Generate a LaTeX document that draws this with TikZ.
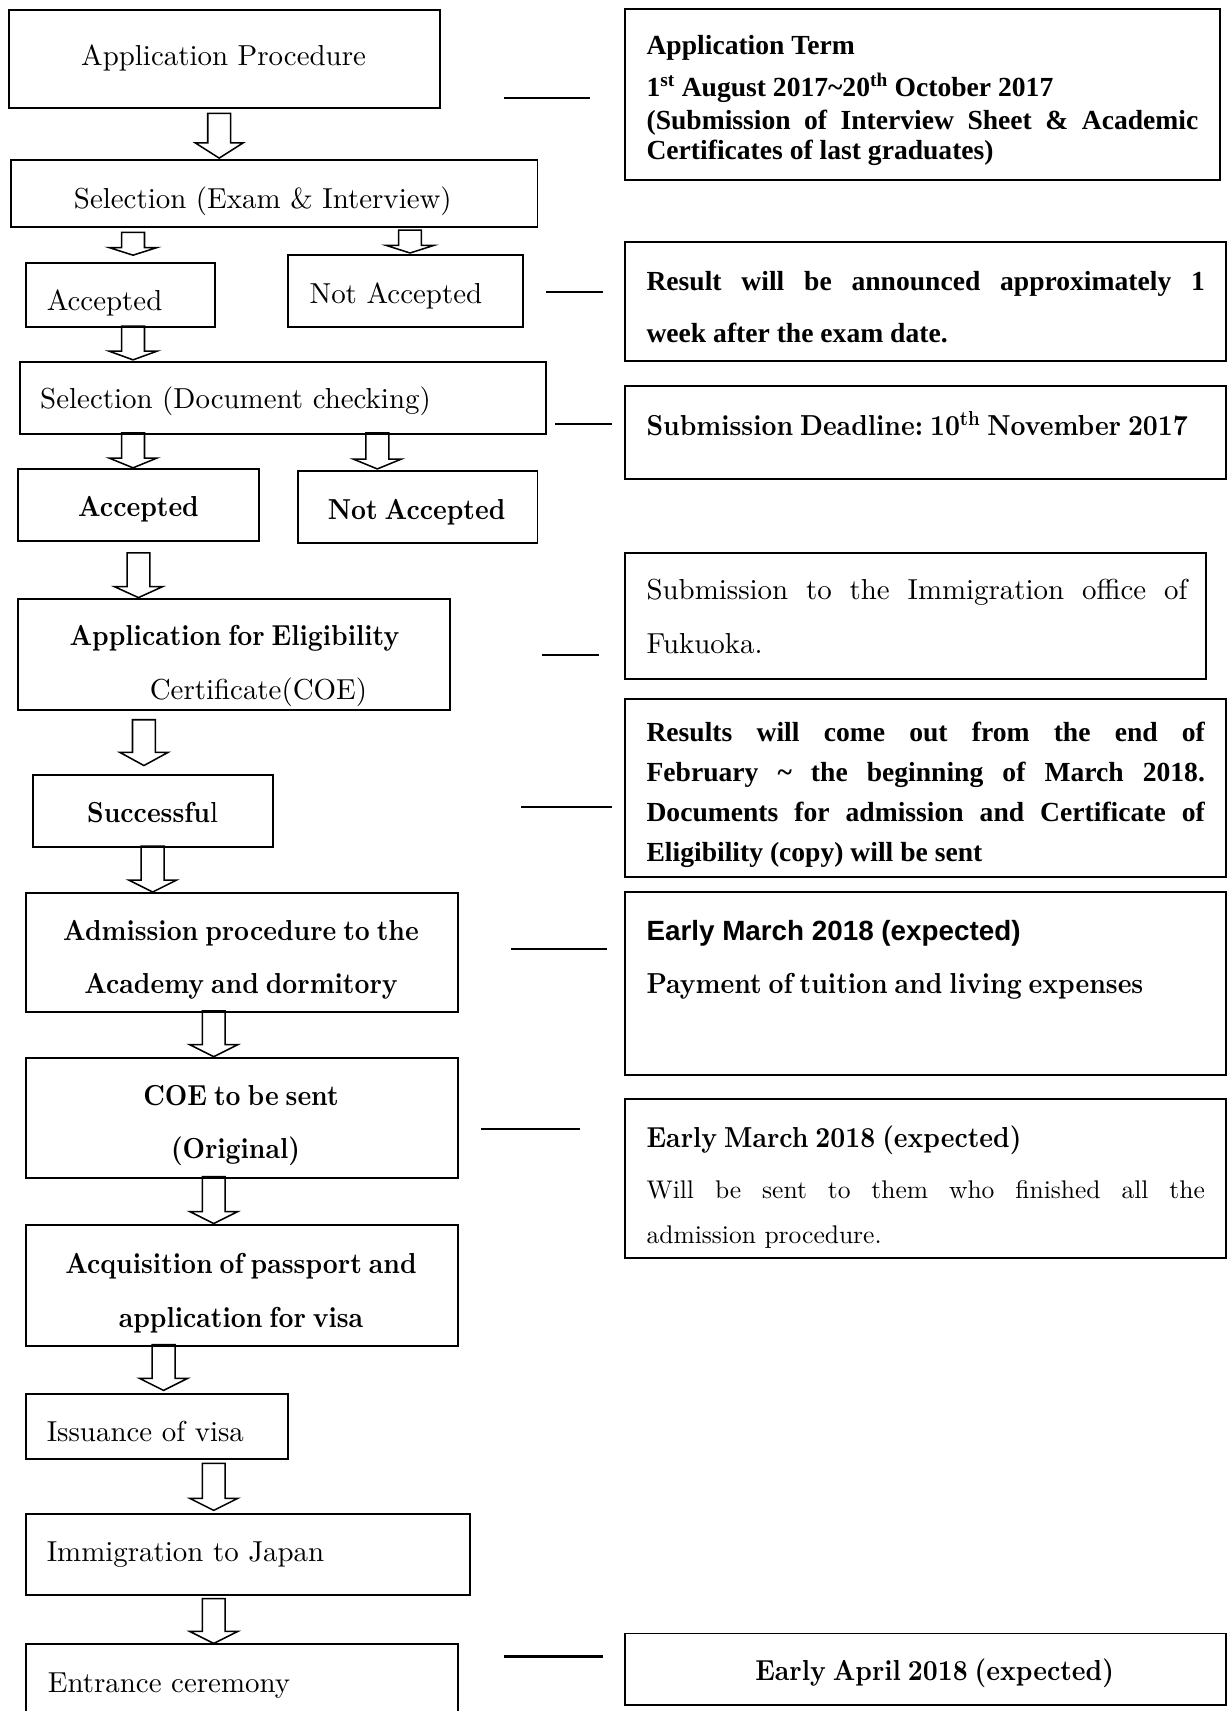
\documentclass[tikz,border=0pt]{standalone}
\usepackage{fontspec}
\newfontfamily\timesfont{Liberation Serif}
\newfontfamily\arialfont{Liberation Sans}
\newfontfamily\minbold[FakeStretch=0.9, WordSpace=0.7]{lmroman10-bold.otf}
\newfontfamily\minreg{lmroman10-regular.otf}
\usetikzlibrary{positioning}
\frenchspacing

\tikzset{
  pics/blockarrow/.style 2 args={code={
    \draw[line width=1.4pt, line join=miter] (-10.5,0) -- (10.5,0) -- (10.5,#1-#2) -- (22,#1-#2)
      -- (0,#1) -- (-22,#1-#2) -- (-10.5,#1-#2) -- cycle;
  }}
}

\begin{document}
\begin{tikzpicture}[x=1pt, y=-1pt, line width=1.8pt, inner sep=0pt]
\tikzstyle{box}=[draw=black, anchor=north west, fill=none]
\tikzstyle{txt}=[font=\fontsize{26.5}{30}\minreg]
\tikzstyle{bld}=[font=\fontsize{26.5}{30}\minbold]
\tikzstyle{tms}=[font=\fontsize{25.3}{30}\timesfont\bfseries]
\tikzstyle{small}=[font=\fontsize{23.4}{28}\minreg]
\tikzstyle{link}=[line width=2pt]

\clip (0,0) rectangle (1126,1569);

% block arrows down the left column
\pic at (201,104)  {blockarrow={41}{14}};
\pic at (122,213)  {blockarrow={21}{7}};
\pic at (376,211)  {blockarrow={21}{7}};
\pic at (122,299)  {blockarrow={31}{8}};
\pic at (122,397)  {blockarrow={32}{9}};
\pic at (346,397)  {blockarrow={33}{9}};
\pic at (127,507)  {blockarrow={41}{10}};
\pic at (132,660)  {blockarrow={42}{12}};
\pic at (140,776)  {blockarrow={42}{11}};
\pic at (196,927)  {blockarrow={42}{11}};
\pic at (196,1079) {blockarrow={43}{11}};
\pic at (150,1233) {blockarrow={42}{11}};
\pic at (196,1342) {blockarrow={43}{11}};
\pic at (196,1466) {blockarrow={41}{11}};

% left column
\node[box, minimum width=396, minimum height=90]  (proc)  at (7,8)     {};
\node[box, minimum width=483, minimum height=61]  (selA)  at (9,146)   {};
\node[box, minimum width=173, minimum height=59]  (acc1)  at (23,240)  {};
\node[box, minimum width=216, minimum height=66]  (nacc1) at (263,233) {};
\node[box, minimum width=483, minimum height=66]  (selB)  at (17,331)  {};
\node[box, minimum width=221, minimum height=66]  (acc2)  at (16,429)  {};
\node[box, minimum width=220, minimum height=66]  (nacc2) at (272,431) {};
\node[box, minimum width=396, minimum height=102] (elig)  at (16,548)  {};
\node[box, minimum width=220, minimum height=66]  (succ)  at (29,710)  {};
\node[box, minimum width=396, minimum height=109] (adm)   at (23,818)  {};
\node[box, minimum width=396, minimum height=110] (coes)  at (23,969)  {};
\node[box, minimum width=396, minimum height=111] (acq)   at (23,1122) {};
\node[box, minimum width=240, minimum height=60]  (iss)   at (23,1277) {};
\node[box, minimum width=407, minimum height=75]  (imm)   at (23,1387) {};
\node[box, minimum width=396, minimum height=100] (ent)   at (23,1507) {};

\node[txt, anchor=base]      (procT)  at (205,60)   {Application Procedure};
\node[txt, anchor=base]      (selAT)  at (241,191)  {Selection (Exam \& Interview)};
\node[txt, anchor=base west] (acc1T)  at (42,285)   {Accepted};
\node[txt, anchor=base west] (nacc1T) at (283,278)  {Not Accepted};
\node[txt, anchor=base west] (selBT)  at (36,375)   {Selection (Document checking)};
\node[bld, anchor=base]      (acc2T)  at (127,474)  {Accepted};
\node[bld, anchor=base]      (nacc2T) at (382,476)  {Not Accepted};
\node[bld, anchor=base]      (eligT1) at (215,592)  {Application for Eligibility};
\node[txt, anchor=base]      (eligT2) at (237,641)  {Certificate(COE)};
\node[txt, anchor=base]      (succT)  at (140,754)  {{\minbold Successfu}l};
\node[bld, anchor=base]      (admT1)  at (221,862)  {Admission procedure to the};
\node[bld, anchor=base]      (admT2)  at (221,911)  {Academy and dormitory};
\node[bld, anchor=base]      (coesT1) at (221,1014) {COE to be sent};
\node[bld, anchor=base]      (coesT2) at (216,1062) {(Original)};
\node[bld, anchor=base]      (acqT1)  at (221,1168) {Acquisition of passport and};
\node[bld, anchor=base]      (acqT2)  at (221,1217) {application for visa};
\node[txt, anchor=base west] (issT)   at (42,1322)  {Issuance of visa};
\node[txt, anchor=base west] (immT)   at (42,1432)  {Immigration to Japan};
\node[txt, anchor=base west] (entT)   at (43,1552)  {Entrance ceremony};

% right column
\node[box, minimum width=546, minimum height=157] (r1) at (572,7)    {};
\node[box, minimum width=551, minimum height=109] (r2) at (572,221)  {};
\node[box, minimum width=551, minimum height=85]  (r3) at (572,353)  {};
\node[box, minimum width=533, minimum height=116] (r4) at (572,506)  {};
\node[box, minimum width=551, minimum height=163] (r5) at (572,640)  {};
\node[box, minimum width=551, minimum height=168] (r6) at (572,817)  {};
\node[box, minimum width=551, minimum height=146] (r7) at (572,1007) {};
\node[box, minimum width=551, minimum height=66]  (r8) at (572,1497) {};

\node[tms, anchor=base west] (r1T1) at (592,50)    {Application Term};
\node[tms, anchor=base west] (r1T2) at (592,88.6)  {1\textsuperscript{st} August 2017\textasciitilde20\textsuperscript{th} October 2017};
\node[tms, anchor=base west] (r1T3) at (592,118.5) {\makebox[506pt][s]{(Submission of Interview Sheet \& Academic}};
\node[tms, anchor=base west] (r1T4) at (592,146)   {Certificates of last graduates)};
\node[tms, anchor=base west] (r2T1) at (592,266)   {\makebox[512pt][s]{Result will be announced approximately 1}};
\node[tms, anchor=base west] (r2T2) at (592,314)   {week after the exam date.};
\node[bld, anchor=base west] (r3T)  at (592,399)   {Submission Deadline: 10\textsuperscript{th} November 2017};
\node[txt, anchor=base west] (r4T1) at (592,550)   {\makebox[496pt][s]{Submission to the Immigration office of}};
\node[txt, anchor=base west] (r4T2) at (592,599)   {Fukuoka.};
\node[tms, anchor=base west] (r5T1) at (592,680)   {\makebox[512pt][s]{Results will come out from the end of}};
\node[tms, anchor=base west] (r5T2) at (592,717)   {\makebox[512pt][s]{February \textasciitilde{} the beginning of March 2018.}};
\node[tms, anchor=base west] (r5T3) at (592,753)   {\makebox[512pt][s]{Documents for admission and Certificate of}};
\node[tms, anchor=base west] (r5T4) at (592,790)   {Eligibility (copy) will be sent};
\node[anchor=base west, font=\fontsize{25.5}{30}\arialfont\bfseries] (r6T1) at (592,862) {Early March 2018 (expected)};
\node[bld, anchor=base west] (r6T2) at (592,911)   {Payment of tuition and living expenses};
\node[bld, anchor=base west] (r7T1) at (592,1052)  {Early March 2018 (expected)};
\node[small, anchor=base west] (r7T2) at (592,1099) {\makebox[512pt][s]{Will be sent to them who finished all the}};
\node[small, anchor=base west] (r7T3) at (592,1140) {admission procedure.};
\node[bld, anchor=base]      (r8T)  at (857,1541)  {Early April 2018 (expected)};

% dashes between the columns
\coordinate (c1a) at (462,90);   \coordinate (c1b) at (541,90);
\coordinate (c2a) at (501,268);  \coordinate (c2b) at (553,268);
\coordinate (c3a) at (509,389);  \coordinate (c3b) at (561,389);
\coordinate (c4a) at (497,601);  \coordinate (c4b) at (549,601);
\coordinate (c5a) at (478,740);  \coordinate (c5b) at (561,740);
\coordinate (c6a) at (469,870);  \coordinate (c6b) at (557,870);
\coordinate (c7a) at (441,1035); \coordinate (c7b) at (532,1035);
\coordinate (c8a) at (462,1519); \coordinate (c8b) at (553,1519);

\path[link]
	(c1a) edge (c1b)
	(c2a) edge (c2b)
	(c3a) edge (c3b)
	(c4a) edge (c4b)
	(c5a) edge (c5b)
	(c6a) edge (c6b)
	(c7a) edge (c7b)
	(c8a) edge (c8b)
;

\end{tikzpicture}
\end{document}
